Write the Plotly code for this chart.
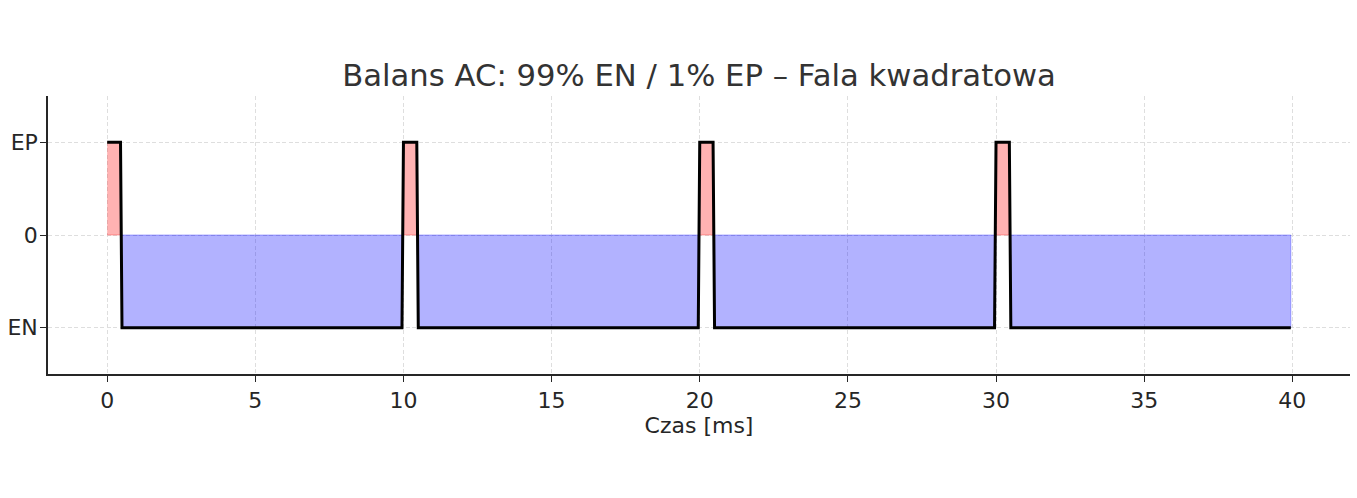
import plotly.graph_objects as go

# Vertices of the sampled square wave (time in ms, level: 1 = EP, -1 = EN)
time_ms = [0, 0.45, 0.5, 9.95, 10.0, 10.45, 10.5, 19.95, 20.0, 20.45, 20.5,
           29.95, 30.0, 30.45, 30.5, 39.95]
level = [1, 1, -1, -1, 1, 1, -1, -1, 1, 1, -1, -1, 1, 1, -1, -1]

ytick_vals = [-1, 0, 1]
ytick_text = ["EN", "0", "EP"]
xtick_vals = [0, 5, 10, 15, 20, 25, 30, 35, 40]

title_text = "Balans AC: 99% EN / 1% EP – Fala kwadratowa"
xlabel = "Czas [ms]"


def segments(sign):
    """Build closed polygons (separated by None) where level has given sign."""
    xs, ys = [], []
    cur = []
    for t, v in zip(time_ms, level):
        if (v > 0 and sign > 0) or (v < 0 and sign < 0):
            cur.append((t, v))
        else:
            if cur:
                xs += [p[0] for p in cur] + [cur[-1][0], cur[0][0], None]
                ys += [p[1] for p in cur] + [0, 0, None]
                cur = []
    if cur:
        xs += [p[0] for p in cur] + [cur[-1][0], cur[0][0], None]
        ys += [p[1] for p in cur] + [0, 0, None]
    return xs, ys


fig = go.Figure()

rx, ry = segments(1)
fig.add_trace(go.Scatter(x=rx, y=ry, mode="lines", fill="toself",
                         fillcolor="rgba(255,0,0,0.3)",
                         line=dict(color="rgba(255,0,0,0.3)", width=1),
                         hoverinfo="skip", showlegend=False))
bx, by = segments(-1)
fig.add_trace(go.Scatter(x=bx, y=by, mode="lines", fill="toself",
                         fillcolor="rgba(0,0,255,0.3)",
                         line=dict(color="rgba(0,0,255,0.3)", width=1),
                         hoverinfo="skip", showlegend=False))
fig.add_trace(go.Scatter(x=time_ms, y=level, mode="lines",
                         line=dict(color="black", width=3),
                         showlegend=False))

axis_color = "#262626"
text_color = "#262626"
tick_size = 22
x_span = time_ms[-1] - time_ms[0]
fig.update_layout(
    width=1357, height=498,
    margin=dict(l=48, r=7, t=96, b=124),
    paper_bgcolor="white", plot_bgcolor="white",
    font=dict(family="DejaVu Sans", size=tick_size, color=text_color),
    title=dict(text=title_text, x=0.5, xref="paper", xanchor="center",
               y=1 - 75 / 498, yref="container", yanchor="middle",
               automargin=False,
               font=dict(family="DejaVu Sans", size=30.7, color="#333333")),
)
fig.update_xaxes(range=[time_ms[0] - 0.05 * x_span, time_ms[-1] + 0.05 * x_span],
                 tickvals=xtick_vals, showgrid=True,
                 gridcolor="#dedede", griddash="4px,2.5px", gridwidth=1,
                 zeroline=False, showline=True, linecolor=axis_color,
                 linewidth=1.6, ticks="outside", ticklen=6, tickwidth=1.4,
                 tickcolor=axis_color, mirror=False, automargin=False,
                 tickfont=dict(family="DejaVu Sans", size=tick_size,
                               color=text_color),
                 title=dict(text=xlabel, standoff=0,
                            font=dict(family="DejaVu Sans", size=tick_size,
                                      color=text_color)))
fig.update_yaxes(range=[-1.5, 1.5], tickvals=ytick_vals, ticktext=ytick_text,
                 showgrid=True, gridcolor="#dedede", griddash="4px,2.5px",
                 gridwidth=1, zeroline=False, showline=True,
                 linecolor=axis_color, linewidth=1.6, ticks="outside",
                 ticklen=6, tickwidth=1.4, tickcolor=axis_color, mirror=False,
                 automargin=False, ticklabelstandoff=-2,
                 tickfont=dict(family="DejaVu Sans", size=tick_size,
                               color=text_color))

fig.write_html("out.html", config={"displayModeBar": False})

# remove the default page margin so the figure sits at the window origin
with open("out.html", "r", encoding="utf-8") as f:
    html = f.read()
html = html.replace("<head>", "<head><style>html,body{margin:0;padding:0;overflow:hidden}</style>", 1)
with open("out.html", "w", encoding="utf-8") as f:
    f.write(html)
